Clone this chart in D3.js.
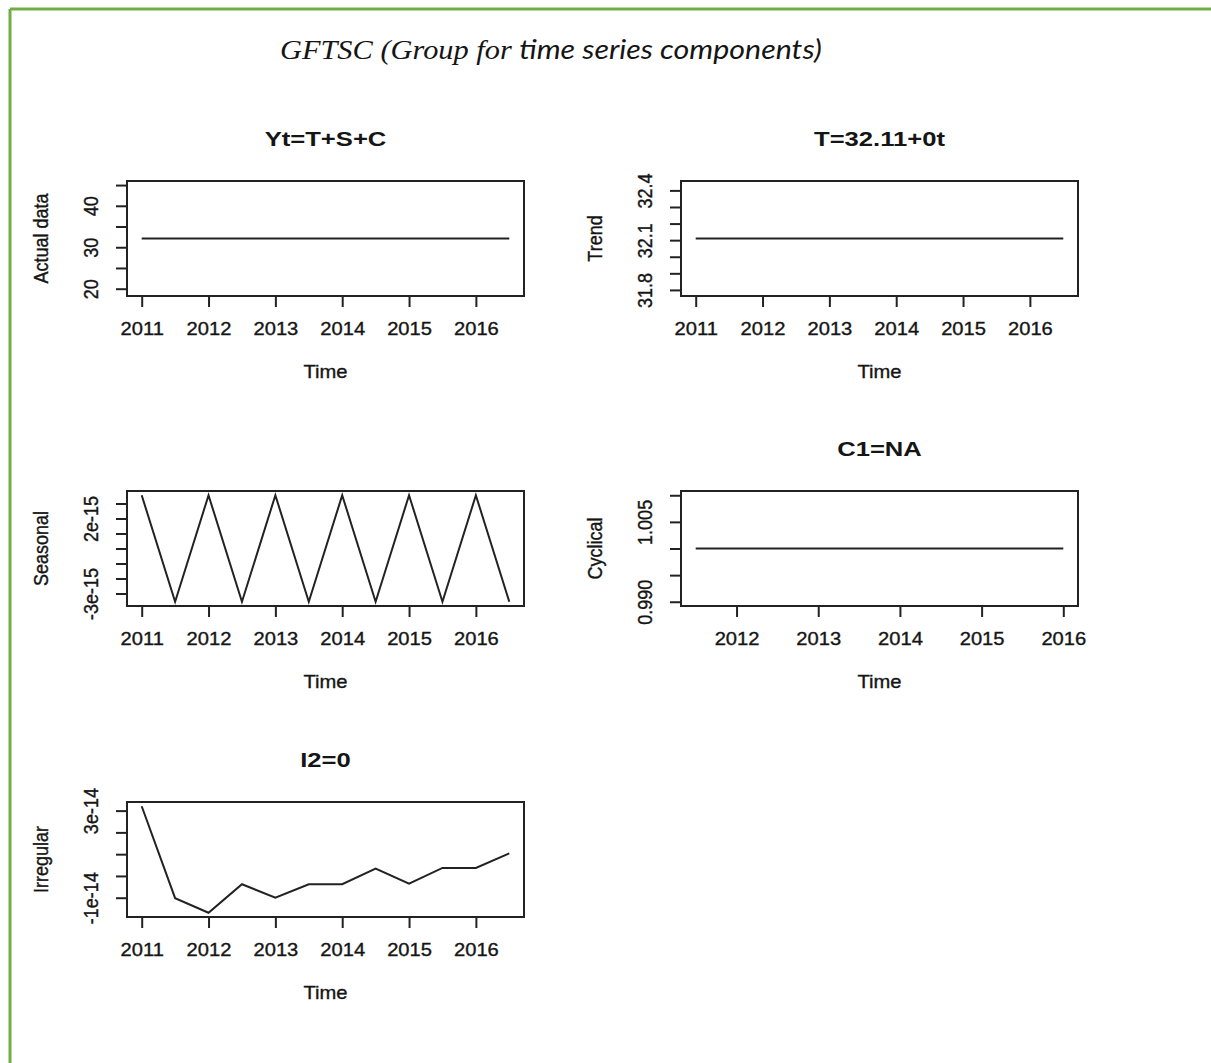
<!DOCTYPE html>
<html lang="en">
<head>
  <title>GFTSC</title>
  <script src="https://cdn.jsdelivr.net/npm/d3@7"></script>
  <style>
    body { margin: 0; background: #fff; }
    text { fill: #151515; font-family: "Liberation Sans", Arial, sans-serif; }
    .ax { stroke: #151515; stroke-width: 0.35px; }
  </style>
</head>
<body>
  <script type="text/javascript">
  // time points, frequency 2 (half years)
  var time = [2011, 2011.5, 2012, 2012.5, 2013, 2013.5, 2014, 2014.5, 2015, 2015.5, 2016, 2016.5];
  var timeCyc = [2011.5, 2012, 2012.5, 2013, 2013.5, 2014, 2014.5, 2015, 2015.5, 2016];

  var actual = [32.11, 32.11, 32.11, 32.11, 32.11, 32.11, 32.11, 32.11, 32.11, 32.11, 32.11, 32.11];
  var trend = [32.11, 32.11, 32.11, 32.11, 32.11, 32.11, 32.11, 32.11, 32.11, 32.11, 32.11, 32.11];
  var seasonal = [3.55e-15, -3.55e-15, 3.55e-15, -3.55e-15, 3.55e-15, -3.55e-15, 3.55e-15, -3.55e-15, 3.55e-15, -3.55e-15, 3.55e-15, -3.55e-15];
  var cyclical = [1, 1, 1, 1, 1, 1, 1, 1, 1, 1];
  var irregular = [3.2e-14, -1.02e-14, -1.69e-14, -0.38e-14, -1.0e-14, -0.38e-14, -0.38e-14, 0.34e-14, -0.35e-14, 0.37e-14, 0.37e-14, 1.04e-14];

  // y limits R chose for the near-constant series
  var actualLim = [19.266, 44.954];
  var trendLim = [31.789, 32.431];
  var cyclicalLim = [0.99, 1.01];

  // ticks and the labels R kept
  var yearTicks = [2011, 2012, 2013, 2014, 2015, 2016];
  var yearTicksCyc = [2012, 2013, 2014, 2015, 2016];
  var actualTicks = [20, 25, 30, 35, 40, 45];
  var actualLabels = ["20", "", "30", "", "40", ""];
  var trendTicks = [31.8, 31.9, 32.0, 32.1, 32.2, 32.3, 32.4];
  var trendLabels = ["31.8", "", "", "32.1", "", "", "32.4"];
  var seasonalTicks = [-3e-15, -2e-15, -1e-15, 0, 1e-15, 2e-15, 3e-15];
  var seasonalLabels = ["-3e-15", "", "", "", "", "2e-15", ""];
  var cyclicalTicks = [0.990, 0.995, 1.000, 1.005, 1.010];
  var cyclicalLabels = ["0.990", "", "", "1.005", ""];
  var irregularTicks = [-1e-14, 0, 1e-14, 2e-14, 3e-14];
  var irregularLabels = ["-1e-14", "", "", "", "3e-14"];

  var W = 1211, H = 1063, SX = 1.12;
  var svg = d3.select("body").append("svg").attr("width", W).attr("height", H);

  // green frame (left and top only visible)
  svg.append("line").attr("x1", 10).attr("y1", 9).attr("x2", W).attr("y2", 9)
    .attr("stroke", "#70ad47").attr("stroke-width", 3);
  svg.append("line").attr("x1", 10).attr("y1", 9).attr("x2", 10).attr("y2", H)
    .attr("stroke", "#70ad47").attr("stroke-width", 3);

  var main = svg.append("text").attr("transform", "translate(280,59) scale(1.085,1)").style("font-size", "28px");
  main.append("tspan").style("font-family", "'Liberation Serif', 'Times New Roman', serif").style("font-style", "italic")
    .text("GFTSC (Group for ");
  main.append("tspan").style("font-family", "Lato, 'Open Sans', sans-serif").style("font-style", "italic")
    .text("time series components)");

  var panels = [
    {title: "Yt=T+S+C", ylab: "Actual data", x: time, y: actual, lim: actualLim, xt: yearTicks, yt: actualTicks, yl: actualLabels, left: 127, top: 181},
    {title: "T=32.11+0t", ylab: "Trend", x: time, y: trend, lim: trendLim, xt: yearTicks, yt: trendTicks, yl: trendLabels, left: 681, top: 181},
    {title: "", ylab: "Seasonal", x: time, y: seasonal, lim: null, xt: yearTicks, yt: seasonalTicks, yl: seasonalLabels, left: 127, top: 491},
    {title: "C1=NA", ylab: "Cyclical", x: timeCyc, y: cyclical, lim: cyclicalLim, xt: yearTicksCyc, yt: cyclicalTicks, yl: cyclicalLabels, left: 681, top: 491},
    {title: "I2=0", ylab: "Irregular", x: time, y: irregular, lim: null, xt: yearTicks, yt: irregularTicks, yl: irregularLabels, left: 127, top: 802}
  ];
  var pw = 397, ph = 115;

  function pad(r) { var d = (r[1] - r[0]) * 0.04; return [r[0] - d, r[1] + d]; }

  panels.forEach(function(p) {
    var g = svg.append("g").attr("transform", "translate(" + p.left + "," + p.top + ")");
    var xs = d3.scaleLinear().domain(pad(d3.extent(p.x))).range([0, pw]);
    var ys = d3.scaleLinear().domain(pad(p.lim || d3.extent(p.y))).range([ph, 0]);

    var xa = g.append("g").attr("transform", "translate(0," + ph + ")")
      .call(d3.axisBottom(xs).tickValues(p.xt).tickSize(11).tickFormat(d3.format("d")));
    xa.select(".domain").remove();
    xa.selectAll("line").attr("stroke", "#222").attr("stroke-width", 2);
    xa.selectAll("text").attr("y", null).attr("dy", null).attr("class", "ax")
      .attr("transform", "translate(0,33) scale(" + SX + ",1)")
      .attr("dominant-baseline", "central").attr("fill", null)
      .style("font-size", "18px");

    var ya = g.append("g")
      .call(d3.axisLeft(ys).tickValues(p.yt).tickSize(11).tickFormat(function(d, i) { return p.yl[i]; }));
    ya.select(".domain").remove();
    ya.selectAll("line").attr("stroke", "#222").attr("stroke-width", 2);
    ya.selectAll("text").attr("x", null).attr("dy", null).attr("class", "ax")
      .attr("transform", "translate(-36,0) scale(" + SX + ",1) rotate(-90)")
      .attr("text-anchor", "middle").attr("dominant-baseline", "central").attr("fill", null)
      .style("font-size", "18px");

    g.append("path").datum(p.y)
      .attr("d", d3.line().x(function(d, i) { return xs(p.x[i]); }).y(function(d) { return ys(d); }))
      .attr("fill", "none").attr("stroke", "#222").attr("stroke-width", 2);

    g.append("rect").attr("width", pw).attr("height", ph)
      .attr("fill", "none").attr("stroke", "#222").attr("stroke-width", 2);

    if (p.title)
      g.append("text").attr("transform", "translate(" + pw / 2 + ",-42) scale(1.22,1)")
        .attr("text-anchor", "middle").attr("dominant-baseline", "central")
        .style("font-size", "21px").style("font-weight", "bold").text(p.title);

    g.append("text").attr("transform", "translate(" + pw / 2 + "," + (ph + 76) + ") scale(" + SX + ",1)")
      .attr("text-anchor", "middle").attr("dominant-baseline", "central").attr("class", "ax")
      .style("font-size", "18px").text("Time");

    g.append("text").attr("transform", "translate(-86," + ph / 2 + ") scale(" + SX + ",1) rotate(-90)")
      .attr("text-anchor", "middle").attr("dominant-baseline", "central").attr("class", "ax")
      .style("font-size", "18px").text(p.ylab);
  });
  </script>
</body>
</html>
